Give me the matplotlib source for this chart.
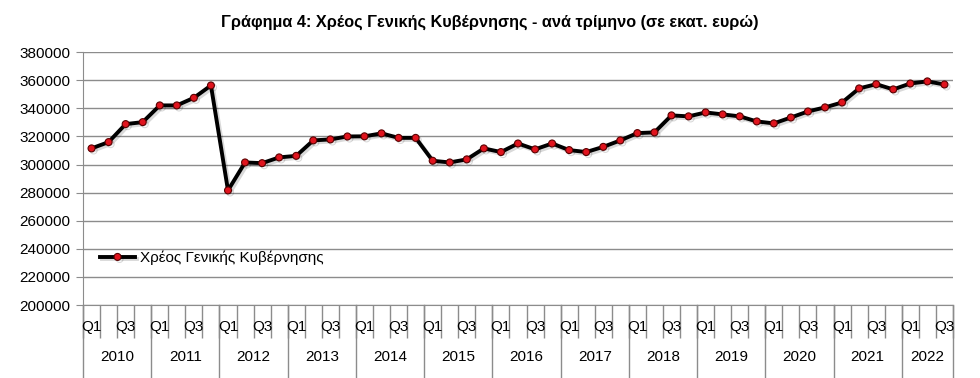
import matplotlib
matplotlib.use('Agg')
import matplotlib.pyplot as plt
import matplotlib.transforms as mtransforms
import matplotlib.patheffects as pe

# Quarterly general government debt (million euro), 2010Q1 - 2022Q3
years = ['2010', '2011', '2012', '2013', '2014', '2015', '2016',
         '2017', '2018', '2019', '2020', '2021', '2022']
quarters_per_year = [4, 4, 4, 4, 4, 4, 4, 4, 4, 4, 4, 4, 3]
quarter_names = ['Q1', 'Q2', 'Q3', 'Q4']
debt = [311500, 316000, 328800, 330200,
        342100, 342100, 347500, 356300,
        281600, 301500, 301000, 305100,
        306200, 317200, 317900, 320000,
        320100, 322200, 319000, 319000,
        302700, 301500, 303700, 311500,
        308900, 315000, 310800, 315000,
        310300, 308900, 312600, 317200,
        322400, 322900, 335000, 334300,
        337100, 335700, 334300, 330700,
        329300, 333500, 337800, 340700,
        344200, 354200, 357200, 353500,
        357700, 359200, 357000]
series_name = 'Χρέος Γενικής Κυβέρνησης'
title = 'Γράφημα 4: Χρέος Γενικής Κυβέρνησης - ανά τρίμηνο (σε εκατ. ευρώ)'

plt.rcParams['font.family'] = ['Liberation Sans', 'DejaVu Sans']

fig = plt.figure(figsize=(9.8, 3.78), dpi=100)
ax = fig.add_axes([0.0847, 0.193, 0.8877, 0.669])

x = list(range(len(debt)))
ax.plot(x, debt, color='black', lw=2.8, marker='o', markersize=5,
        markerfacecolor='#e0141e', markeredgecolor='#5a0000',
        markeredgewidth=0.8, label=series_name, zorder=3,
        path_effects=[pe.SimpleLineShadow(offset=(1.5, -1.5), alpha=0.15),
                      pe.Normal()])

ax.set_xlim(-0.5, len(debt) - 0.5)
ax.set_ylim(200000, 380000)
ax.set_yticks(range(200000, 380001, 20000))
ax.yaxis.grid(True, color='#8c8c8c', lw=1)
ax.set_axisbelow(True)

for side in ['top', 'right']:
    ax.spines[side].set_visible(False)
for side in ['left', 'bottom']:
    ax.spines[side].set_color('#8c8c8c')

ax.tick_params(axis='y', length=5, color='#8c8c8c', labelsize=11, pad=4)

# category ticks between quarters
ax.set_xticks([])
ax.set_xticks([i - 0.5 for i in range(len(debt) + 1)], minor=True)
ax.tick_params(axis='x', which='minor', length=24, color='#8c8c8c',
               width=1, direction='out')

trans = mtransforms.blended_transform_factory(ax.transData, ax.transAxes)

# quarter labels (only every other one fits)
labels = []
for n in quarters_per_year:
    labels += quarter_names[:n]
for i, lab in enumerate(labels):
    if i % 2 == 0:
        ax.text(i, -0.085, lab, transform=trans, ha='center', va='center',
                fontsize=11)

# year labels and separators
start = 0
for yr, n in zip(years, quarters_per_year):
    ax.text(start + (n - 1) / 2, -0.205, yr, transform=trans,
            ha='center', va='center', fontsize=11)
    ax.plot([start - 0.5, start - 0.5], [0, -0.3], transform=trans,
            color='#8c8c8c', lw=1, clip_on=False)
    start += n
ax.plot([start - 0.5, start - 0.5], [0, -0.3], transform=trans,
        color='#8c8c8c', lw=1, clip_on=False)

leg = ax.legend(loc='center left', bbox_to_anchor=(0.0195, 0.186),
                frameon=False, fontsize=11, handlelength=2.3,
                handletextpad=0.35, borderpad=0, borderaxespad=0)

fig.text(0.5, 0.94, title, ha='center', va='center', fontsize=11.7,
         fontweight='bold')

fig.savefig('out.png', dpi=100)
